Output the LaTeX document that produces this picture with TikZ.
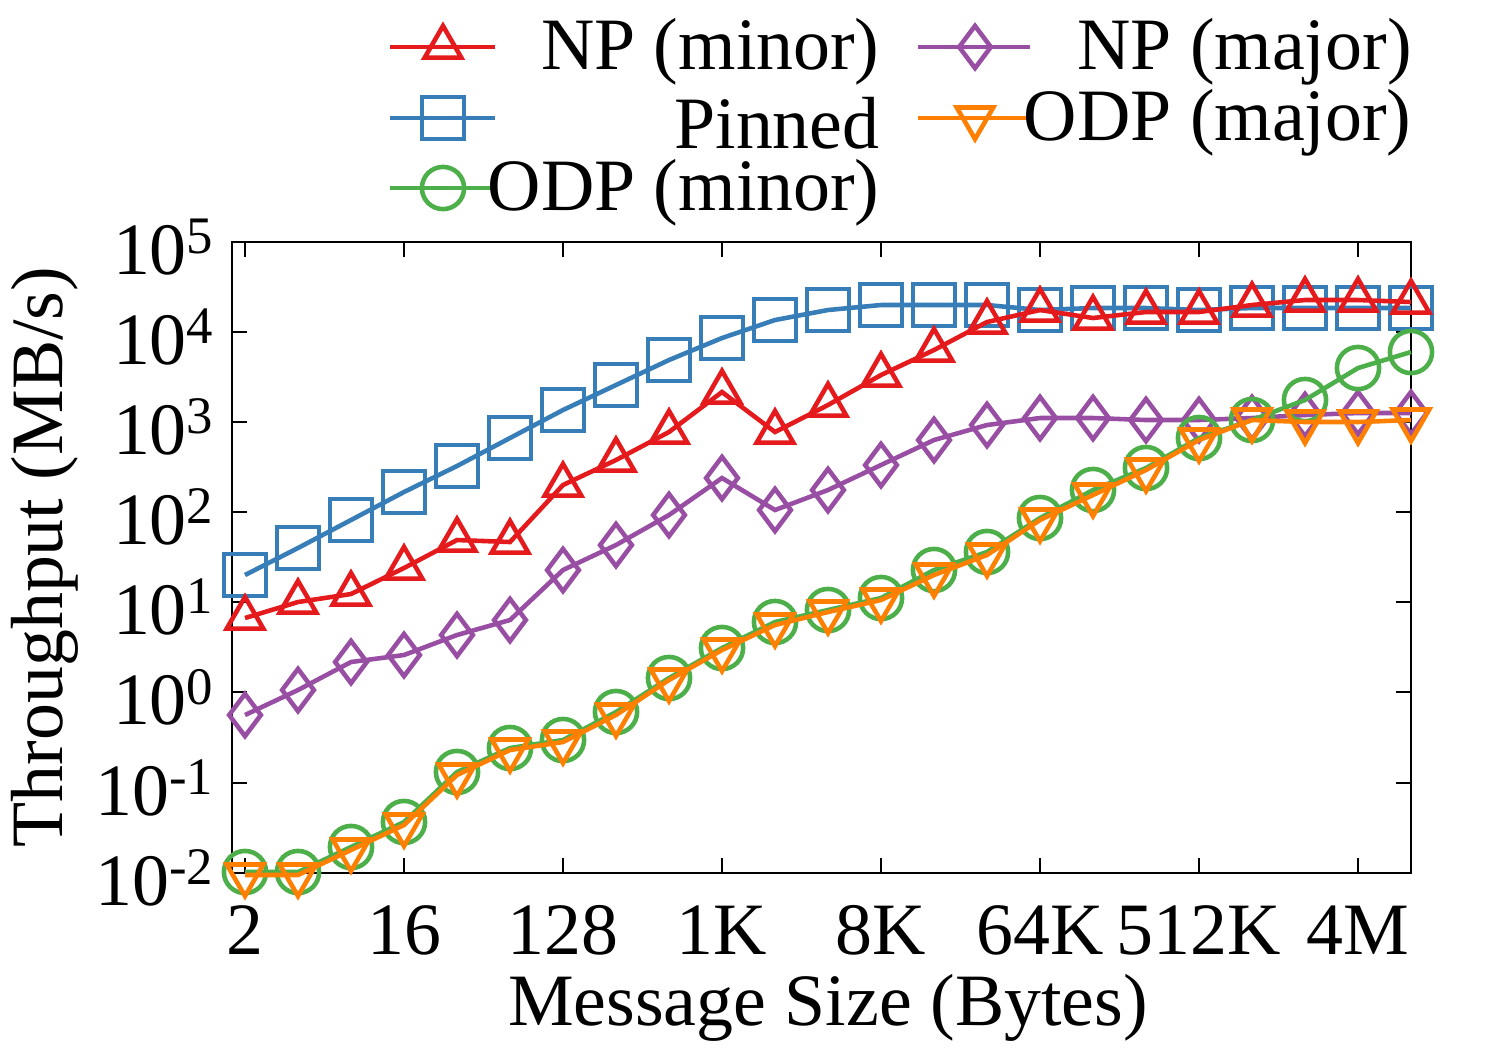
\documentclass[tikz,border=0pt]{standalone}
\usepackage{fontspec}
\setmainfont{Liberation Serif}
\usetikzlibrary{plotmarks}
\definecolor{cnpmin}{HTML}{E41A1C}
\definecolor{cpin}{HTML}{377EB8}
\definecolor{codpmin}{HTML}{4DAF4A}
\definecolor{cnpmaj}{HTML}{984EA3}
\definecolor{codpmaj}{HTML}{FF7F00}
\tikzset{
  series/.style={line width=1.3pt, mark size=6pt, mark options={solid, line width=1.3pt}},
  ticklab/.style={font=\fontsize{21}{22}\selectfont},
}
\begin{document}
\begin{tikzpicture}[x=0.01cm, y=-0.01cm]
 \useasboundingbox (0,0) rectangle (1500,1050);

 %frame and ticks
 \draw[line width=0.8pt] (232,242) rectangle (1411,873);
 \foreach \e/\yy in {5/242,4/332,3/422,2/512,1/602,0/692,-1/783,-2/873} {
   \draw[line width=0.8pt] (232,\yy) -- (247,\yy);
   \draw[line width=0.8pt] (1411,\yy) -- (1396,\yy);
   \node[ticklab, anchor=east, inner sep=0pt] at (214,\yy+5) {10\raisebox{0.6ex}{\fontsize{15}{15}\selectfont\e}};
 }
 \foreach \lab/\xx in {2/245,16/404,128/563,1K/722,8K/881,64K/1040,512K/1199,4M/1358} {
   \draw[line width=0.8pt] (\xx,873) -- (\xx,858);
   \draw[line width=0.8pt] (\xx,242) -- (\xx,257);
   \node[ticklab] at (\xx,930) {\lab};
 }
 \node[ticklab, rotate=90] at (45,557) {Throughput (MB/s)};
 \node[ticklab] at (828,1008) {Message Size (Bytes)};

 %series
 \draw[series, cpin, mark=square] plot coordinates {(245,575) (298,548) (351,520) (404,492) (457,466) (510,438) (563,410) (616,385) (669,360) (722,338) (775,320) (828,310) (881,305) (934,305) (987,305) (1040,310) (1093,308) (1146,308) (1199,310) (1252,308) (1305,308) (1358,308) (1411,308)};
 \draw[series, cnpmin, mark=triangle] plot coordinates {(245,618) (298,602) (351,594) (404,568) (457,540) (510,542) (563,485) (616,460) (669,432) (722,392) (775,432) (828,405) (881,375) (934,350) (987,322) (1040,310) (1093,318) (1146,312) (1199,312) (1252,305) (1305,300) (1358,300) (1411,302)};
 \draw[series, cnpmaj, mark=diamond] plot coordinates {(245,715) (298,690) (351,662) (404,655) (457,635) (510,620) (563,570) (616,545) (669,515) (722,478) (775,510) (828,490) (881,465) (934,440) (987,425) (1040,418) (1093,418) (1146,420) (1199,420) (1252,418) (1305,415) (1358,413) (1411,413)};
 \draw[series, codpmin, mark=o] plot coordinates {(245,872) (298,872) (351,847) (404,822) (457,772) (510,748) (563,740) (616,712) (669,678) (722,648) (775,622) (828,610) (881,598) (934,570) (987,552) (1040,518) (1093,490) (1146,468) (1199,438) (1252,420) (1305,400) (1358,368) (1411,352)};
 \draw[series, codpmaj, mark=triangle, mark options={rotate=180}] plot coordinates {(245,875) (298,875) (351,850) (404,825) (457,775) (510,750) (563,742) (616,715) (669,680) (722,650) (775,625) (828,612) (881,600) (934,575) (987,555) (1040,520) (1093,495) (1146,470) (1199,440) (1252,420) (1305,422) (1358,422) (1411,420)};

 %legend
 \foreach \yy/\col/\mk/\txt in {47/cnpmin/triangle/NP (minor), 118/cpin/square/Pinned, 188/codpmin/o/ODP (minor)} {
   \draw[series, \col] (390,\yy) -- (495,\yy);
   \draw[series, \col] plot[mark=\mk] coordinates {(443,\yy)};
   \node[ticklab, anchor=east] at (892,\yy+5) {\txt};
 }
 \draw[series, cnpmaj] (918,47) -- (1030,47);
 \draw[series, cnpmaj] plot[mark=diamond] coordinates {(975,47)};
 \node[ticklab, anchor=east] at (1424,52) {NP (major)};
 \draw[series, codpmaj] (918,118) -- (1030,118);
 \draw[series, codpmaj] plot[mark=triangle, mark options={rotate=180}] coordinates {(975,118)};
 \node[ticklab, anchor=east] at (1424,123) {ODP (major)};
\end{tikzpicture}
\end{document}
